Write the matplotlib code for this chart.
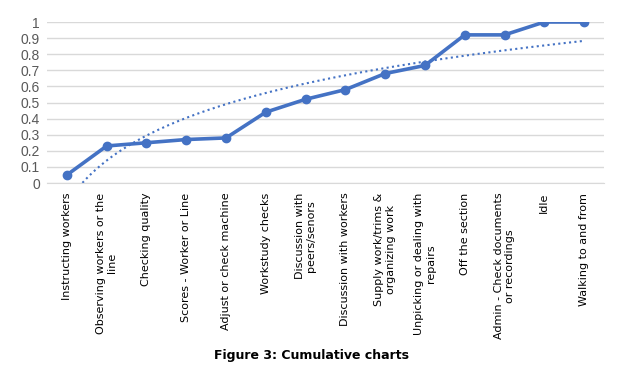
import numpy as np
import matplotlib
matplotlib.use("Agg")
import matplotlib.pyplot as plt

categories = [
    "Instructing workers",
    "Observing workers or the\nline",
    "Checking quality",
    "Scores - Worker or Line",
    "Adjust or check machine",
    "Workstudy checks",
    "Discussion with\npeers/senors",
    "Discussion with workers",
    "Supply work/trims &\norganizing work",
    "Unpicking or dealing with\nrepairs",
    "Off the section",
    "Admin - Check documents\nor recordings",
    "Idle",
    "Walking to and from",
]
values = [0.05, 0.23, 0.25, 0.27, 0.28, 0.44, 0.52, 0.58, 0.68, 0.73, 0.92, 0.92, 1.0, 1.0]
yticks = [0, 0.1, 0.2, 0.3, 0.4, 0.5, 0.6, 0.7, 0.8, 0.9, 1]
ytick_labels = ["0", "0.1", "0.2", "0.3", "0.4", "0.5", "0.6", "0.7", "0.8", "0.9", "1"]

blue = "#4472C4"

fig = plt.figure(figsize=(6.23, 3.70), dpi=100)
ax = fig.add_axes([47/623, 1-183/370, (604-47)/623, (183-22)/370])

x = np.arange(1, len(values) + 1)

# logarithmic trendline (least squares on ln x)
a, b = np.polyfit(np.log(x), values, 1)
xt = np.linspace(1, len(values), 400)
yt = a * np.log(xt) + b
mask = yt >= 0
ax.plot(xt[mask], yt[mask], linestyle=(0, (1, 1.6)), color=blue, linewidth=1.5, zorder=2)

ax.plot(x, values, color=blue, linewidth=2.6, marker="o", markersize=6, zorder=3)

ax.set_xlim(0.5, len(values) + 0.5)
ax.set_ylim(0, 1)
ax.set_yticks(yticks)
ax.set_yticklabels(ytick_labels, fontsize=10, color="#595959", family="Liberation Sans")
ax.set_xticks(x)
ax.set_xticklabels(categories, rotation=90, ha="center", va="top", multialignment="center",
                   fontsize=8, color="black")
ax.tick_params(axis="both", length=0)
ax.tick_params(axis="x", pad=7)
ax.tick_params(axis="y", pad=5)
ax.grid(axis="y", color="#D9D9D9", linewidth=1)
ax.set_axisbelow(True)
for s in ["top", "right", "left"]:
    ax.spines[s].set_visible(False)
ax.spines["bottom"].set_color("#D9D9D9")

fig.text(311/623, 1-356/370, "Figure 3: Cumulative charts", ha="center", va="center",
         fontsize=9, fontweight="bold")

fig.savefig("out.png", dpi=100)
